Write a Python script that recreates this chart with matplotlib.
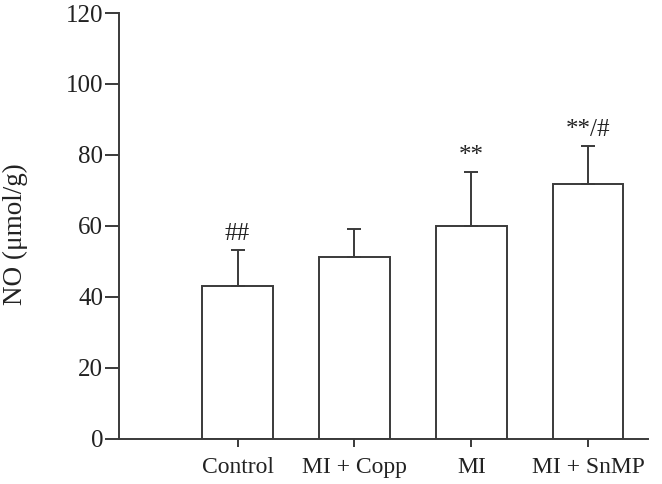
import matplotlib
matplotlib.use("Agg")
import matplotlib.pyplot as plt

groups = ["Control", "MI + Copp", "MI", "MI + SnMP"]
no_mean = [43.0, 51.3, 60.1, 71.9]
no_sd = [10.2, 7.8, 15.1, 10.6]
marks = ["##", "", "**", "**/#"]
yticks = [0, 20, 40, 60, 80, 100, 120]

INK = "#3a3a3a"
plt.rcParams["font.family"] = ["Liberation Serif", "DejaVu Serif"]

fig = plt.figure(figsize=(6.62, 4.84), dpi=100)
ax = fig.add_axes([0.1798, 0.0936, 0.7991, 0.8795])

x = list(range(len(groups)))
ax.bar(x, no_mean, width=0.6, color="white", edgecolor=INK, linewidth=1.4, zorder=2)
ax.errorbar(x, no_mean, yerr=[[0] * len(no_sd), no_sd], fmt="none",
            ecolor=INK, elinewidth=1.4, capsize=4.7, capthick=1.4, zorder=3)

for xi, m, s, lab in zip(x, no_mean, no_sd, marks):
    if lab:
        ax.text(xi, m + s + 1.4, lab, ha="center", va="bottom", fontsize=18, color="#222222")

ax.set_xlim(-1.013, 3.51)
ax.set_ylim(0, 120)
ax.set_yticks(yticks)
ax.set_xticks(x, groups)
ax.set_ylabel("NO (μmol/g)", fontsize=19.5, color="#222222")
ax.yaxis.set_label_coords(-0.172, 0.481)

for side in ["top", "right"]:
    ax.spines[side].set_visible(False)
for side in ["left", "bottom"]:
    ax.spines[side].set_color(INK)
    ax.spines[side].set_linewidth(1.4)

ax.tick_params(axis="y", direction="out", length=10, width=1.4, color=INK,
               labelsize=18, labelcolor="#222222", pad=1.5)
ax.tick_params(axis="x", direction="out", length=6, width=1.4, color=INK,
               labelsize=17, labelcolor="#222222", pad=7)

fig.savefig("out.png", dpi=100)
